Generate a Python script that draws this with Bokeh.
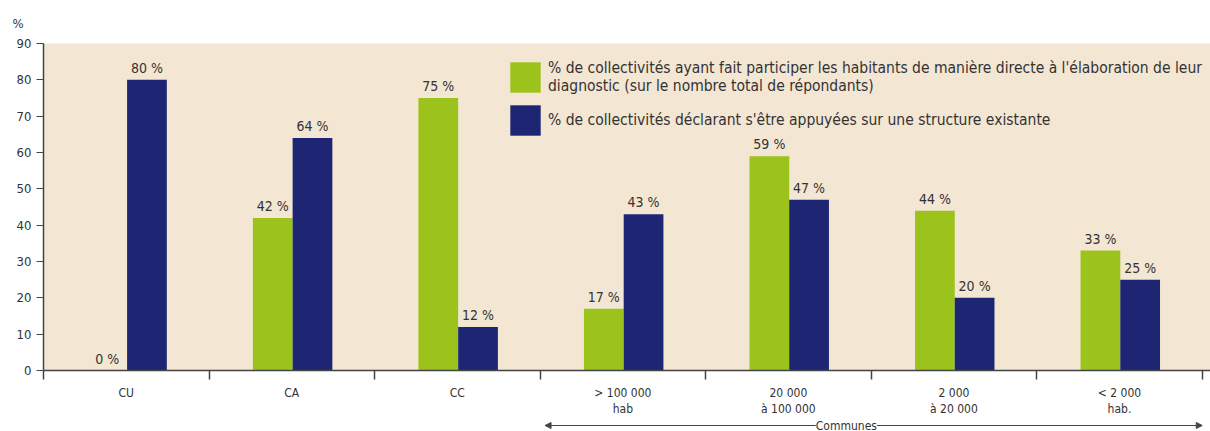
from bokeh.plotting import figure
from bokeh.layouts import column
from bokeh.models import (ColumnDataSource, FixedTicker, Range1d, LabelSet, Label,
                          Legend, LegendItem, Arrow, NormalHead)
from bokeh.core.properties import value
from bokeh.embed import file_html
from bokeh.resources import INLINE

categories = ["CU", "CA", "CC", "> 100 000\nhab", "20 000\nà 100 000", "2 000\nà 20 000", "< 2 000\nhab."]
participation = [0, 42, 75, 17, 59, 44, 33]
structure = [80, 64, 12, 43, 47, 20, 25]
y_ticks = [0, 10, 20, 30, 40, 50, 60, 70, 80, 90]
legend_labels = [
    "% de collectivités ayant fait participer les habitants de manière directe à l'élaboration de leur\ndiagnostic (sur le nombre total de répondants)",
    "% de collectivités déclarant s'être appuyées sur une structure existante",
]
group_label = "Communes"
unit_label = "%"

GREEN = "#9cc31c"
BLUE = "#1e2674"
BEIGE = "#f3e6d3"
TXT = "#333333"
AX = "#444444"
FONT = "Liberation Sans Narrow, DejaVu Sans Condensed, sans-serif"

n = len(categories)
xs = list(range(n))
x_range = Range1d(0, 7.05)

src = ColumnDataSource(dict(
    xg=[i + 0.385 for i in xs],
    xb=[i + 0.625 for i in xs],
    g=participation,
    b=structure,
    gl=[f"{v} %" for v in participation],
    bl=[f"{v} %" for v in structure],
))

p = figure(width=1210, height=419, output_backend="svg", toolbar_location=None,
           x_range=x_range, y_range=Range1d(0, 90),
           min_border_left=43, min_border_right=0, min_border_top=43, min_border_bottom=48)
p.background_fill_color = BEIGE
p.border_fill_color = "white"
p.outline_line_color = None
p.grid.visible = False

p.title.text = unit_label
p.title.align = "left"
p.title.offset = -31
p.title.text_font = FONT
p.title.text_font_size = "13px"
p.title.text_font_style = "normal"
p.title.text_color = TXT
p.title.standoff = 26

rg = p.vbar(x="xg", top="g", width=0.24, source=src, fill_color=GREEN, line_color=None)
rb = p.vbar(x="xb", top="b", width=0.24, source=src, fill_color=BLUE, line_color=None)

for col, top, xcol in (("gl", "g", "xg"), ("bl", "b", "xb")):
    p.add_layout(LabelSet(x=xcol, y=top, text=col, source=src, text_align="center",
                          text_baseline="bottom", y_offset=4,
                          text_font=value(FONT), text_font_size=value("14px"),
                          text_color=TXT))

# y axis
p.yaxis.ticker = FixedTicker(ticks=y_ticks)
p.yaxis.major_tick_out = 7
p.yaxis.major_tick_in = 0
p.yaxis.minor_tick_out = 0
p.yaxis.minor_tick_in = 0
p.yaxis.major_label_standoff = 5
p.yaxis.axis_line_color = AX
p.yaxis.axis_line_width = 1.5
p.yaxis.major_tick_line_color = AX
p.yaxis.major_label_text_font = FONT
p.yaxis.major_label_text_font_size = "13px"
p.yaxis.major_label_text_color = TXT

# x axis: labels at category centers, ticks at boundaries (minor ticks)
p.xaxis.ticker = FixedTicker(ticks=[i + 0.5 for i in xs], minor_ticks=list(range(n + 1)))
p.xaxis.major_label_overrides = {i + 0.5: c for i, c in enumerate(categories)}
p.xaxis.major_tick_out = 0
p.xaxis.major_tick_in = 0
p.xaxis.minor_tick_out = 9
p.xaxis.minor_tick_in = 0
p.xaxis.minor_tick_line_color = AX
p.xaxis.minor_tick_line_width = 1.5
p.xaxis.axis_line_color = AX
p.xaxis.axis_line_width = 1.5
p.xaxis.major_label_standoff = 6
p.xaxis.major_label_text_font = FONT
p.xaxis.major_label_text_font_size = "12px"
p.xaxis.major_label_text_color = TXT

legend = Legend(items=[LegendItem(label=legend_labels[0], renderers=[rg]),
                       LegendItem(label=legend_labels[1], renderers=[rb])],
                location=(463, 231), orientation="vertical",
                glyph_width=38, glyph_height=38, spacing=5, label_standoff=4,
                padding=0, margin=0, border_line_color=None, background_fill_alpha=0,
                label_text_font=FONT, label_text_font_size="15.5px", label_text_color=TXT,
                label_text_line_height=1.06)
p.add_layout(legend)

# strip below with the "Communes" arrow, sharing the x scale
p2 = figure(width=1210, height=12, output_backend="svg", toolbar_location=None,
            x_range=x_range, y_range=Range1d(0, 1),
            min_border_left=43, min_border_right=0, min_border_top=0, min_border_bottom=0)
p2.axis.visible = False
p2.grid.visible = False
p2.outline_line_color = None
p2.background_fill_color = "white"
p2.border_fill_color = "white"
p2.add_layout(Arrow(x_start=3.03, x_end=7.0, y_start=0.5, y_end=0.5,
                    start=NormalHead(size=6, fill_color=AX, line_color=AX),
                    end=NormalHead(size=6, fill_color=AX, line_color=AX),
                    line_color=AX, line_width=1))
p2.add_layout(Label(x=4.85, y=0.5, text=group_label, text_align="center", text_baseline="middle",
                    text_font=FONT, text_font_size="12px", text_color=TXT,
                    background_fill_color="white", background_fill_alpha=1.0))

layout = column(p, p2, spacing=0)
open("out.html", "w").write(file_html(layout, INLINE))
